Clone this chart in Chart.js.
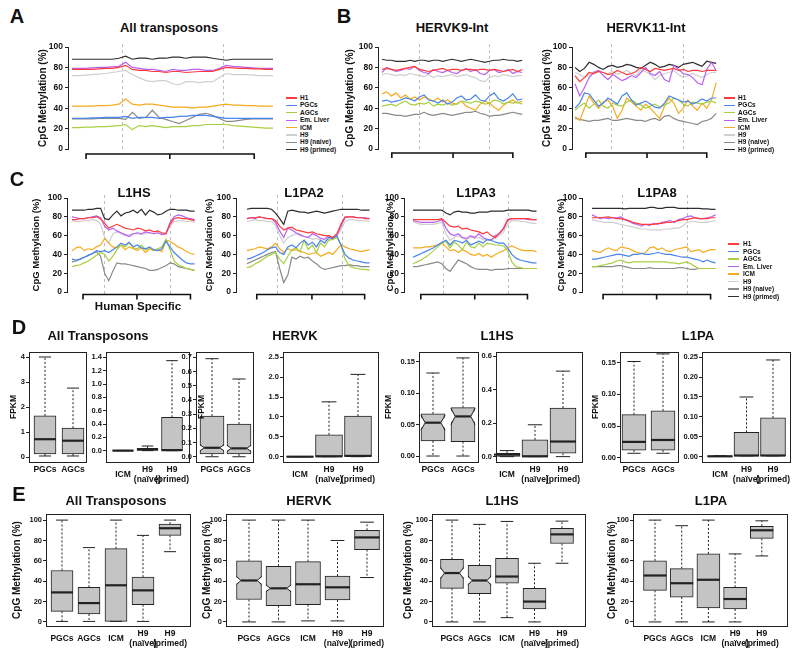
<!DOCTYPE html>
<html>
<head>
<meta charset="utf-8">
<script src="https://cdn.jsdelivr.net/npm/chart.js@4.4.1/dist/chart.umd.min.js"></script>
<style>
  body { margin: 0; width: 800px; height: 656px; position: relative; overflow: hidden; background: #fff;
         font-family: "Liberation Sans", Arial, sans-serif; font-weight: bold; color: #111; }
  canvas { position: absolute; }
  .lbl { position: absolute; white-space: nowrap; line-height: 1; transform: translate(-50%, -50%); }
  .leg { position: absolute; font-size: 6.5px; line-height: 1; white-space: nowrap; transform: translateY(-50%); }
  .legline { position: absolute; height: 1.2px; }
</style>
</head>
<body>
<script>
// ---- series shared by the methylation profiles (A-C) ----
const series = ["H1", "PGCs", "AGCs", "Em. Liver", "ICM", "H9", "H9 (naive)", "H9 (primed)"];
const colors = ["#ff3b3b", "#4a84ec", "#a8cf3f", "#b760f2", "#f5ab1f", "#cfcfcf", "#8a8a8a", "#2e2e2e"];
const pctTicks = [0, 20, 40, 60, 80, 100];

// A: all transposons (31 bins across flank / element / flank)
const A_H1 = [78,78,78,78,78.5,79,79,80,82,78,77,77,76,76,75,76,76,75,75.5,76,76,76,78,80,79.5,79,79,78.5,78.5,78,78];
const A_PGC = [30,30,30,30.5,30.5,31,31,31,32,30,31,31,31,30,31,31,32,32,33,33,33,32,31,30,30,30,30,30,30,30,30];
const A_AGC = [21,21,21.5,21.5,22,22,22.5,23,24,19,23,22,23,22,21,22,22,22,23,23,24,24,24,24,23,22.5,22,21.5,21,20.5,20.5];
const A_EmL = [79,79,79,79.5,80,80,80.5,81,85,80,79,78,78,77,76,78,77,77,78,78,77,77,79,82,81,80.5,80,79.5,79,79,79];
const A_ICM = [42,42,42,42,42.5,42.5,43,44,49,44,43,44,44,43,42,41,41,41,40,41,41,42,43,44,43,43,42.5,42.5,42,42,42];
const A_H9 = [72,72,72.5,73,73.5,74,75,76,77,73,70,67,66,67,67,64,63,66,66,65,66,66,70,74,73,73,73,72.5,72,72,72];
const A_H9n = [29.5,29.5,29.5,29.5,30,30,30,30,29,36,30,31,38,31,29,27,25,28,31,34,35,33,30,27,27,28,29,29.5,29.5,29.5,29.5];
const A_H9p = [88,88,88,88,88,88,88,89,91,88,89,89,88,89,89,90,90,89,90,90,90,89,88,87,88,88,88,88,88,88,88];

// B: HERVK9-Int
const K9_H1 = [78,79,78,77,78,79,80,81,78,77,76,77,78,79,77,78,78,77,78,78,77,78,78,77,78,77,76,77,78,76,78];
const K9_PGC = [47,48,46,47,48,50,49,47,51,53,48,47,45,48,44,46,50,52,48,49,53,48,47,52,55,49,47,50,54,48,49];
const K9_AGC = [42,43,44,42,45,47,44,43,45,44,46,42,44,43,45,43,44,47,46,45,47,46,44,45,48,47,44,46,45,46,44];
const K9_EmL = [75,80,78,76,77,79,78,81,77,75,74,78,76,75,77,75,74,77,79,76,78,74,73,77,78,75,76,78,74,76,75];
const K9_ICM = [54,56,52,55,50,53,49,51,48,51,49,47,50,46,48,45,44,47,42,40,38,44,47,45,41,38,43,46,48,45,47];
const K9_H9 = [73,74,73,72,73,72,74,73,72,71,73,70,72,71,72,73,71,72,73,71,70,67,66,70,72,71,73,72,71,72,72];
const K9_H9n = [35,35,34,33,33,32,33,34,34,36,34,33,34,35,34,33,34,35,36,36,37,35,34,32,33,33,34,35,36,35,34];
const K9_H9p = [88,87,87,86,86,86,87,86,87,87,86,87,87,86,87,88,87,86,87,88,87,86,85,86,87,87,88,87,87,86,87];

// B: HERVK11-Int
const K11_H1 = [72,66,70,75,74,76,75,73,74,77,75,73,74,76,80,78,76,79,78,77,78,79,77,78,76,77,77,76,77,77,77];
const K11_PGC = [40,45,55,54,48,42,45,50,47,44,52,55,48,43,45,47,44,41,40,45,52,50,48,46,47,44,46,49,47,50,50];
const K11_AGC = [38,42,45,40,44,48,42,40,45,43,42,46,48,45,43,40,42,44,41,43,45,50,48,44,42,46,45,44,46,47,45];
const K11_EmL = [64,52,60,70,75,77,72,68,73,70,67,69,72,70,75,80,74,72,76,68,66,82,78,74,73,70,65,63,78,85,77];
const K11_ICM = [32,28,40,52,45,40,46,48,42,30,38,50,46,42,38,44,40,35,30,42,50,45,35,40,48,42,38,45,40,48,65];
const K11_H9 = [75,73,70,72,76,77,75,74,76,73,75,77,74,72,78,76,73,68,72,74,75,77,73,70,72,74,72,70,73,75,75];
const K11_H9n = [30,29,28,27,28,28,29,30,28,28,29,30,29,28,28,27,29,30,28,32,33,30,28,27,26,25,24,27,28,30,35];
const K11_H9p = [80,76,79,85,83,80,78,81,82,80,81,83,82,80,79,82,85,83,80,81,83,82,80,83,84,85,83,81,86,85,84];

// C: L1HS
const HS_H1 = [77,77,78,78,79,79,80,78,73,68,70,72,70,68,67,66,68,67,65,66,64,65,63,62,72,78,79,78,78,77,76];
const HS_PGC = [35,34,35,37,39,41,44,43,44,42,45,48,52,50,53,48,50,47,46,48,45,44,46,54,48,42,38,34,31,30,30];
const HS_AGC = [27,28,29,31,33,36,39,42,40,33,38,45,50,48,52,47,46,50,45,47,44,46,48,56,45,33,29,27,25,24,23];
const HS_EmL = [80,79,78,78,79,80,81,79,70,66,68,65,63,61,59,62,63,62,64,63,62,63,61,62,74,80,82,81,79,78,77];
const HS_ICM = [44,47,48,44,46,45,48,50,57,52,48,47,50,45,48,46,44,47,42,46,44,45,43,55,54,51,48,46,43,41,40];
const HS_H9 = [76,75,75,76,76,77,76,72,58,52,62,64,62,60,61,62,62,61,62,63,62,63,62,63,70,75,76,76,75,75,74];
const HS_H9n = [32,33,35,37,39,41,43,38,20,12,22,31,30,30,29,28,27,26,25,23,23,24,26,28,31,30,27,26,25,24,23];
const HS_H9p = [87,87,87,87,88,88,89,89,78,77,82,86,81,84,85,87,84,88,82,87,85,82,83,86,88,88,87,87,87,86,86];

// C: L1PA2
const P2_H1 = [78,79,79,80,79,78,78,76,70,66,68,69,66,65,64,63,64,62,61,60,60,58,62,72,80,80,80,79,79,78,78];
const P2_PGC = [35,36,38,40,42,45,47,48,42,40,48,50,47,52,55,50,53,48,55,52,58,57,60,50,40,36,34,33,32,31,31];
const P2_AGC = [26,27,30,32,35,38,40,42,35,30,38,45,47,43,55,45,50,42,52,48,55,56,58,50,35,28,26,25,24,24,23];
const P2_EmL = [78,79,78,80,79,78,78,74,65,58,68,66,63,61,59,58,62,60,57,56,60,56,60,70,79,80,80,79,79,79,78];
const P2_ICM = [44,45,46,48,47,46,48,52,46,42,46,44,45,43,42,40,41,42,38,40,42,40,45,50,48,46,45,44,43,44,45];
const P2_H9 = [75,76,77,76,76,75,75,71,60,52,58,60,62,60,59,58,56,57,55,54,56,58,60,66,75,77,77,76,76,76,75];
const P2_H9n = [30,32,34,36,38,40,42,43,25,10,18,37,35,38,36,37,33,30,26,24,25,26,27,28,28,29,28,28,27,27,27];
const P2_H9p = [88,89,89,89,89,89,88,84,78,72,86,87,86,85,85,84,85,86,85,84,85,86,87,88,88,88,88,88,87,87,87];

// C: L1PA3
const P3_H1 = [77,77,77,77,77,77,77,78,74,70,69,70,67,68,66,65,64,62,64,60,58,63,68,77,78,78,78,78,78,77,77];
const P3_PGC = [37,39,41,43,45,47,50,53,55,50,55,54,52,55,50,52,54,52,56,55,53,52,52,47,40,36,34,33,32,31,31];
const P3_AGC = [30,32,34,37,40,44,48,52,54,47,53,50,45,53,48,47,52,48,52,51,50,50,49,44,32,27,26,25,25,25,25];
const P3_EmL = [76,75,74,74,74,74,75,77,68,62,60,62,58,57,60,58,62,58,56,55,60,62,67,76,78,78,78,78,77,77,77];
const P3_ICM = [47,47,47,48,48,49,50,52,48,44,45,42,45,43,40,39,41,38,40,37,40,42,44,47,49,47,45,44,44,44,43];
const P3_H9 = [75,73,72,72,72,72,73,74,62,55,58,60,57,56,58,57,58,56,55,56,57,60,64,72,76,76,75,75,74,73,73];
const P3_H9n = [27,27,28,29,30,31,32,30,25,22,28,34,32,30,27,25,24,24,24,23,24,24,24,25,25,25,25,25,25,25,25];
const P3_H9p = [87,87,87,87,87,87,87,87,84,82,85,86,85,85,84,84,85,85,85,86,86,86,86,87,87,87,87,87,87,86,86];

// C: L1PA8
const P8_H1 = [79,79,79,79.5,80,79,78,78,77,76,74,73,72,72,72,72,73,73,74,74,75,76,77,77,78,79,78,78,78,79,79];
const P8_PGC = [35,35,36,37,38,39,40,40,39,38,40,40,41,40,40,41,42,41,40,40,39,38,37,37,36,35,34,32,34,32,31];
const P8_AGC = [27,27,28,29,30,31,33,34,32,31,32,32,32,32,32,32,32,32,32,31,31,30,31,32,30,27,25,25,25,25,25];
const P8_EmL = [82,80,78,79,78,79,79,80,77,75,73,72,70,72,71,73,72,74,75,76,74,77,78,80,81,79,78,78,79,80,82];
const P8_ICM = [44,43,42,45,47,45,44,48,47,46,44,42,41,42,47,48,45,47,44,43,45,46,47,48,43,44,45,42,44,45,45];
const P8_H9 = [77,76,75,74,74,74,73,72,71,70,69,68,67,67,66,66,66,66,67,67,68,68,70,74,75,75,74,74,74,75,76];
const P8_H9n = [27,27,27,27,27,27,28,28,27,26,25,25,25,25,26,25,25,25,25,25,25,26,26,25,24,24,25,25,25,25,25];
const P8_H9p = [89,89,89,89,89,89,89,89,88.5,89,89,89,89,89,90,90,89,89,90,90,90,89,89,89,89,89,89,88.5,88.5,88,88];

// D/E: box statistics per category = [low whisker, q1, median, q3, high whisker]
const leftCats = ["PGCs", "AGCs"];
const rightCats = ["ICM", ["H9", "(naïve)"], ["H9", "(primed)"]];
const allCats = ["PGCs", "AGCs", "ICM", ["H9", "(naïve)"], ["H9", "(primed)"]];

const dAllGerm = [[0.05,0.13,0.72,1.65,4.0], [0.05,0.13,0.66,1.16,2.76]];
const dAllCells = [[0,0,0,0.004,0.004], [0,0.005,0.02,0.035,0.07], [0,0.005,0.008,0.5,1.35]];
const dHervkGerm = [[0,0.019,0.063,0.286,0.69], [0,0.019,0.059,0.23,0.547]];
const dHervkCells = [[0,0,0,0.005,0.005], [0,0.005,0.01,0.55,1.38], [0,0.01,0.02,1.02,2.07]];
const dL1hsGerm = [[0,0.024,0.053,0.067,0.132], [0,0.023,0.063,0.077,0.156]];
const dL1hsCells = [[0,0.002,0.012,0.02,0.036], [0,0.001,0.002,0.1,0.19], [0,0.02,0.09,0.29,0.51]];
const dL1paGerm = [[0.007,0.012,0.025,0.068,0.152], [0.007,0.012,0.028,0.074,0.164]];
const dL1paCells = [[0.001,0.001,0.001,0.002,0.002], [0.002,0.002,0.003,0.061,0.15], [0.002,0.002,0.003,0.0975,0.243]];

const eAll = [[0.5,10.4,29,50.5,100], [0.5,7.8,18.5,34,73], [0.5,0.5,36,72,100], [0.5,17,31,44,85], [69,85,92,96,100]];
const eHervk = [[0,22,40.7,60,100], [0,16,33,54.7,100], [1,17,37,59.3,100], [1,21.5,34,45,80], [43.6,71,83,90,98]];
const eL1hs = [[0,33,48,61.6,100], [0,27.7,40.7,55.5,95.8], [4.2,38,44.6,62.5,98.7], [0,12.7,20,33,57.6], [57.6,77,86,92,99]];
const eL1pa = [[0,31,45.6,60,100], [0,24.4,38,52.4,94.5], [0,13.7,41.4,66.8,100], [0,12.7,22.5,34,66.8], [64.8,82,90,94,99.3]];

// notch half-heights (same units as the box), 0 = plain box
const dHervkGermNotch = [0.022, 0.022];
const dL1hsGermNotch = [0.012, 0.013];
const eHervkNotch = [4, 3.3, 0, 0, 0];
const eL1hsNotch = [5.5, 4.5, 0, 0, 0];

const fpkmAllGermTicks = [0, 1, 2, 3, 4];
const fpkmAllCellTicks = [0, 0.2, 0.4, 0.6, 0.8, 1.0, 1.2, 1.4];
const fpkmHervkGermTicks = [0, 0.1, 0.2, 0.3, 0.4, 0.5, 0.6, 0.7];
const fpkmHervkCellTicks = [0, 0.5, 1.0, 1.5, 2.0, 2.5];
const fpkmL1GermTicks = [0, 0.05, 0.10, 0.15];
const fpkmL1hsCellTicks = [0, 0.2, 0.4, 0.6];
const fpkmL1paCellTicks = [0, 0.05, 0.10, 0.15, 0.20, 0.25];

Chart.defaults.font.family = '"Liberation Sans", Arial, sans-serif';
Chart.defaults.font.weight = "bold";
Chart.defaults.color = "#111";

// dashed element borders, brackets, frames and box whiskers
Chart.register({
  id: "marks",
  beforeDatasetsDraw(chart, args, opts) {
    if (!opts.dash) return;
    const { ctx, chartArea: a, scales: { x } } = chart;
    ctx.save();
    ctx.strokeStyle = "#bdbdbd";
    ctx.lineWidth = 1;
    ctx.setLineDash([3, 3]);
    opts.dash.forEach((v) => {
      const px = Math.round(x.getPixelForValue(v)) + 0.5;
      ctx.beginPath();
      ctx.moveTo(px, a.top - 3);
      ctx.lineTo(px, a.bottom + 2);
      ctx.stroke();
    });
    ctx.restore();
  },
  afterDatasetsDraw(chart, args, opts) {
    if (!opts.stats) return;
    const { ctx, scales: { y } } = chart;
    const meta = chart.getDatasetMeta(0);
    const notch = opts.notch || [];
    ctx.save();
    ctx.strokeStyle = "#222";
    opts.stats.forEach((st, i) => {
      const bar = meta.data[i];
      const x = bar.x;
      const half = bar.width / 2;
      const py = (v) => y.getPixelForValue(v);
      let medHalf = half;
      if (notch[i]) {
        // cut the notch out of both sides of the box
        const ind = half * 0.35;
        const yt = py(st[2] + notch[i]), ym = py(st[2]), yb = py(st[2] - notch[i]);
        [[x - half, 1], [x + half, -1]].forEach(([ex, dir]) => {
          ctx.fillStyle = "#fff";
          ctx.beginPath();
          ctx.moveTo(ex - dir * 1.5, yt); ctx.lineTo(ex + dir * ind, ym); ctx.lineTo(ex - dir * 1.5, yb);
          ctx.closePath();
          ctx.fill();
          ctx.lineWidth = 1;
          ctx.beginPath();
          ctx.moveTo(ex, yt); ctx.lineTo(ex + dir * ind, ym); ctx.lineTo(ex, yb);
          ctx.stroke();
        });
        medHalf = half - ind;
      }
      ctx.lineWidth = 1;
      ctx.setLineDash([2, 2]);
      ctx.beginPath();
      ctx.moveTo(x, py(st[3])); ctx.lineTo(x, py(st[4]));
      ctx.moveTo(x, py(st[1])); ctx.lineTo(x, py(st[0]));
      ctx.stroke();
      ctx.setLineDash([]);
      ctx.beginPath();
      ctx.moveTo(x - half * 0.55, py(st[4])); ctx.lineTo(x + half * 0.55, py(st[4]));
      ctx.moveTo(x - half * 0.55, py(st[0])); ctx.lineTo(x + half * 0.55, py(st[0]));
      ctx.stroke();
      ctx.lineWidth = 2.2;
      ctx.beginPath();
      ctx.moveTo(x - medHalf, py(st[2])); ctx.lineTo(x + medHalf, py(st[2]));
      ctx.stroke();
    });
    ctx.restore();
  },
  afterDraw(chart, args, opts) {
    const { ctx, chartArea: a, scales: { x } } = chart;
    ctx.save();
    if (opts.bracket) {
      const yb = a.bottom + opts.gap;
      const [p0, p1, p2] = opts.bracket.map((v) => x.getPixelForValue(v));
      ctx.strokeStyle = "#111";
      ctx.lineWidth = 1.6;
      ctx.beginPath();
      ctx.moveTo(p0, yb + 5); ctx.lineTo(p0, yb); ctx.lineTo(p2, yb); ctx.lineTo(p2, yb + 5);
      ctx.moveTo(p1, yb); ctx.lineTo(p1, yb + 5);
      ctx.stroke();
    }
    if (opts.frame) {
      ctx.strokeStyle = "#222";
      ctx.lineWidth = 1;
      ctx.strokeRect(Math.round(a.left) + 0.5, Math.round(a.top) + 0.5,
        Math.round(a.right - a.left), Math.round(a.bottom - a.top));
    }
    ctx.restore();
  },
});

function makeCanvas(left, top, w, h) {
  const c = document.createElement("canvas");
  w = Math.round(w); h = Math.round(h);
  c.width = w; c.height = h;
  c.style.left = Math.round(left) + "px";
  c.style.top = Math.round(top) + "px";
  c.style.width = w + "px";
  c.style.height = h + "px";
  document.body.appendChild(c);
  return c;
}

function label(text, cx, cy, size) {
  const d = document.createElement("div");
  d.className = "lbl";
  d.textContent = text;
  d.style.left = cx + "px";
  d.style.top = cy + "px";
  d.style.fontSize = size + "px";
  document.body.appendChild(d);
  return d;
}

function legend(x0, x1, tx, y0, step) {
  series.forEach((name, i) => {
    const y = y0 + i * step;
    const ln = document.createElement("div");
    ln.className = "legline";
    ln.style.left = x0 + "px";
    ln.style.width = x1 - x0 + "px";
    ln.style.top = y - 0.6 + "px";
    ln.style.background = colors[i];
    document.body.appendChild(ln);
    const t = document.createElement("div");
    t.className = "leg";
    t.textContent = name;
    t.style.left = tx + "px";
    t.style.top = y + "px";
    document.body.appendChild(t);
  });
}

function lineChart(data, c) {
  const step = (c.last - c.first) / 30;
  const xmin = -(c.first - c.axisX) / step;
  const scaleLeft = c.titleX - 6;
  const left = scaleLeft - 20;
  const top = c.top - 10;
  const right = c.last + 0.6 * step;
  const canvas = makeCanvas(left, top, right + 4 - left, c.bottom - c.top + 30);
  new Chart(canvas, {
    type: "line",
    data: {
      datasets: data.map((d, i) => ({
        label: series[i],
        data: d.map((v, j) => ({ x: j, y: v })),
        borderColor: colors[i],
        borderWidth: 1.2,
        pointRadius: 0,
        tension: 0,
        fill: false,
      })),
    },
    options: {
      responsive: false, animation: false, events: [], devicePixelRatio: 1,
      layout: { padding: { left: 20, top: 10, right: 4, bottom: 20 } },
      plugins: {
        legend: { display: false }, tooltip: { enabled: false },
        marks: { dash: c.dash, bracket: c.bracket, gap: c.gap },
      },
      scales: {
        x: { type: "linear", display: false, min: xmin, max: 30.6 },
        y: {
          min: 0, max: 100,
          afterBuildTicks: (s) => { s.ticks = pctTicks.map((v) => ({ value: v })); },
          afterFit: (s) => { s.width = c.axisX - scaleLeft; },
          border: { display: true, color: "#222", width: 1 },
          grid: { display: true, drawOnChartArea: false, tickLength: 3, color: "#222" },
          ticks: { padding: 2, font: { size: 8.5, weight: "bold" }, color: "#111" },
          title: { display: true, text: "CpG Methylation (%)", padding: 0,
                   font: { size: c.titleSize, weight: "bold" }, color: "#111" },
        },
      },
    },
  });
}

function boxChart(stats, cats, c) {
  const n = cats.length;
  const xmin = 1 - (c.c1 - c.L) / c.s;
  const xmax = n + (c.R - (c.c1 + (n - 1) * c.s)) / c.s;
  const scaleLeft = c.titleX ? c.titleX - 6 : c.L - 30;
  const left = scaleLeft - 20;
  const top = c.top - 8;
  const canvas = makeCanvas(left, top, c.R + 20 - left, c.bottom - c.top + 8 + 30);
  new Chart(canvas, {
    type: "bar",
    data: {
      datasets: [{
        data: stats.map((st, i) => ({ x: i + 1, y: [st[1], st[3]] })),
        backgroundColor: "#c4c4c4",
        borderColor: "#222",
        borderWidth: 1,
        borderSkipped: false,
        barThickness: c.bw,
      }],
    },
    options: {
      responsive: false, animation: false, events: [], devicePixelRatio: 1,
      layout: { padding: { left: 20, top: 8, right: 20, bottom: 0 } },
      plugins: { legend: { display: false }, tooltip: { enabled: false },
                 marks: { stats: stats, notch: c.notch, frame: true } },
      scales: {
        x: {
          type: "linear", min: xmin, max: xmax, offset: false,
          afterBuildTicks: (s) => { s.ticks = cats.map((_, i) => ({ value: i + 1 })); },
          afterFit: (s) => { s.height = 30; },
          border: { display: false },
          grid: { display: false, offset: false },
          ticks: {
            autoSkip: false, maxRotation: 0, padding: 0, crossAlign: "center",
            font: { size: 8.5, weight: "bold", lineHeight: 1.15 }, color: "#111",
            callback: (v) => cats[Math.round(v) - 1],
          },
        },
        y: {
          min: c.ymin, max: c.ymax,
          afterBuildTicks: (s) => { s.ticks = c.ticks.map((v) => ({ value: v })); },
          afterFit: (s) => { s.width = c.L - scaleLeft; },
          border: { display: false },
          grid: { display: true, drawOnChartArea: false, tickLength: 3, color: "#222" },
          ticks: { padding: 1, font: { size: 7.5, weight: "bold" }, color: "#111",
                   callback: (v) => Number(v).toFixed(c.dec) },
          title: { display: !!c.title, text: c.title || "", padding: 0,
                   font: { size: c.titleSize || 10, weight: "bold" }, color: "#111" },
        },
      },
    },
  });
}

// ---- A ----
lineChart([A_H1, A_PGC, A_AGC, A_EmL, A_ICM, A_H9, A_H9n, A_H9p],
  { titleX: 43, axisX: 68, first: 72, last: 273, top: 47, bottom: 149, titleSize: 10,
    dash: [7.5, 22.5], bracket: [2.1, 14.6, 27.2], gap: 5 });
legend(286, 297, 300, 98, 7.4);

// ---- B ----
lineChart([K9_H1, K9_PGC, K9_AGC, K9_EmL, K9_ICM, K9_H9, K9_H9n, K9_H9p],
  { titleX: 350, axisX: 378, first: 382, last: 522, top: 47, bottom: 149, titleSize: 10,
    dash: [7.9, 22.9], bracket: [2.1, 15.2, 28], gap: 4 });
lineChart([K11_H1, K11_PGC, K11_AGC, K11_EmL, K11_ICM, K11_H9, K11_H9n, K11_H9p],
  { titleX: 547, axisX: 572, first: 575, last: 716, top: 47, bottom: 149, titleSize: 10,
    dash: [7.66, 23], bracket: [2.3, 15.3, 28], gap: 4 });
legend(724, 735, 738, 98, 7.4);

// ---- C ----
lineChart([HS_H1, HS_PGC, HS_AGC, HS_EmL, HS_ICM, HS_H9, HS_H9n, HS_H9p],
  { titleX: 37, axisX: 67, first: 72, last: 195, top: 198, bottom: 292, titleSize: 9.5,
    dash: [7.8, 24.1], bracket: [2.7, 15.9, 29], gap: 2.5 });
lineChart([P2_H1, P2_PGC, P2_AGC, P2_EmL, P2_ICM, P2_H9, P2_H9n, P2_H9p],
  { titleX: 210, axisX: 236, first: 247, last: 370, top: 198, bottom: 292, titleSize: 9.5,
    dash: [7.3, 23.2], bracket: [2.4, 15.9, 28.8], gap: 2.5 });
lineChart([P3_H1, P3_PGC, P3_AGC, P3_EmL, P3_ICM, P3_H9, P3_H9n, P3_H9p],
  { titleX: 391, axisX: 404, first: 413, last: 537, top: 198, bottom: 292, titleSize: 9.5,
    dash: [7.3, 23.0], bracket: [1.9, 15, 27.8], gap: 2.5 });
lineChart([P8_H1, P8_PGC, P8_AGC, P8_EmL, P8_ICM, P8_H9, P8_H9n, P8_H9p],
  { titleX: 562, axisX: 582, first: 592, last: 716, top: 198, bottom: 292, titleSize: 9.5,
    dash: [7.3, 23.1], bracket: [2.7, 15.7, 28.8], gap: 2.5 });
legend(728, 739, 743, 244, 7.5);

// ---- D ----
const dTop = 352, dBottom = 462;
boxChart(dAllGerm, leftCats, { title: "FPKM", titleX: 15, titleSize: 8.5, L: 29, R: 86, top: dTop, bottom: dBottom,
  c1: 45, s: 28, bw: 22, ymin: -0.19, ymax: 4.2, ticks: fpkmAllGermTicks, dec: 0 });
boxChart(dAllCells, rightCats, { L: 106, R: 189, top: dTop, bottom: dBottom,
  c1: 123, s: 24.5, bw: 21, ymin: -0.17, ymax: 1.48, ticks: fpkmAllCellTicks, dec: 1 });
boxChart(dHervkGerm, leftCats, { L: 196, R: 253, top: dTop, bottom: dBottom, notch: dHervkGermNotch,
  c1: 212, s: 27, bw: 24, ymin: -0.037, ymax: 0.737, ticks: fpkmHervkGermTicks, dec: 1 });
boxChart(dHervkCells, rightCats, { L: 283, R: 378, top: dTop, bottom: dBottom,
  c1: 300, s: 29, bw: 27, ymin: -0.133, ymax: 2.633, ticks: fpkmHervkCellTicks, dec: 1 });
boxChart(dL1hsGerm, leftCats, { title: "FPKM", titleX: 390, titleSize: 8.5, L: 419, R: 478, top: dTop, bottom: dBottom,
  notch: dL1hsGermNotch, c1: 433, s: 30, bw: 24, ymin: -0.0095, ymax: 0.1654, ticks: fpkmL1GermTicks, dec: 2 });
boxChart(dL1hsCells, rightCats, { L: 496, R: 582, top: dTop, bottom: dBottom,
  c1: 507, s: 28, bw: 26, ymin: -0.032, ymax: 0.624, ticks: fpkmL1hsCellTicks, dec: 1 });
boxChart(dL1paGerm, leftCats, { title: "FPKM", titleX: 597, titleSize: 8.5, L: 620, R: 678, top: dTop, bottom: dBottom,
  c1: 634, s: 29, bw: 24, ymin: -0.0068, ymax: 0.167, ticks: fpkmL1GermTicks, dec: 2 });
boxChart(dL1paCells, rightCats, { L: 702, R: 790, top: dTop, bottom: dBottom,
  c1: 720, s: 26.5, bw: 25, ymin: -0.0133, ymax: 0.263, ticks: fpkmL1paCellTicks, dec: 2 });
const hervkFpkm = label("FPKM", 201, 407, 8.5);
hervkFpkm.style.transform = "translate(-50%, -50%) rotate(-90deg)";

// ---- E ----
const eTop = 514, eBottom = 626;
const eOpts = { title: "CpG Methylation (%)", titleSize: 10, top: eTop, bottom: eBottom,
  ymin: -4, ymax: 106, ticks: pctTicks, dec: 0 };
boxChart(eAll, allCats, { ...eOpts, titleX: 17, L: 46, R: 190, c1: 62, s: 27, bw: 22 });
boxChart(eHervk, allCats, { ...eOpts, titleX: 207, L: 226, R: 383, c1: 249, s: 29.5, bw: 25, notch: eHervkNotch });
boxChart(eL1hs, allCats, { ...eOpts, titleX: 408, L: 432, R: 585, c1: 452, s: 27.5, bw: 23, notch: eL1hsNotch });
boxChart(eL1pa, allCats, { ...eOpts, titleX: 612, L: 633, R: 787, c1: 655, s: 26.7, bw: 23 });

// ---- titles and panel letters ----
[["All transposons", 169, 27], ["HERVK9-Int", 452, 27], ["HERVK11-Int", 646, 27],
 ["L1HS", 134, 192], ["L1PA2", 304, 192], ["L1PA3", 476, 192], ["L1PA8", 657, 192],
 ["All Transposons", 98, 335], ["HERVK", 295, 335], ["L1HS", 497, 335], ["L1PA", 698, 335],
 ["All Transposons", 116, 500], ["HERVK", 309, 500], ["L1HS", 502, 500], ["L1PA", 711, 500]]
  .forEach(([t, x, y]) => label(t, x, y, 13));
label("Human Specific", 138, 307, 11.5);
[["A", 17, 15.5], ["B", 344, 15.5], ["C", 17, 179], ["D", 19, 327], ["E", 19, 494]]
  .forEach(([t, x, y]) => label(t, x, y, 20));
</script>
</body>
</html>
